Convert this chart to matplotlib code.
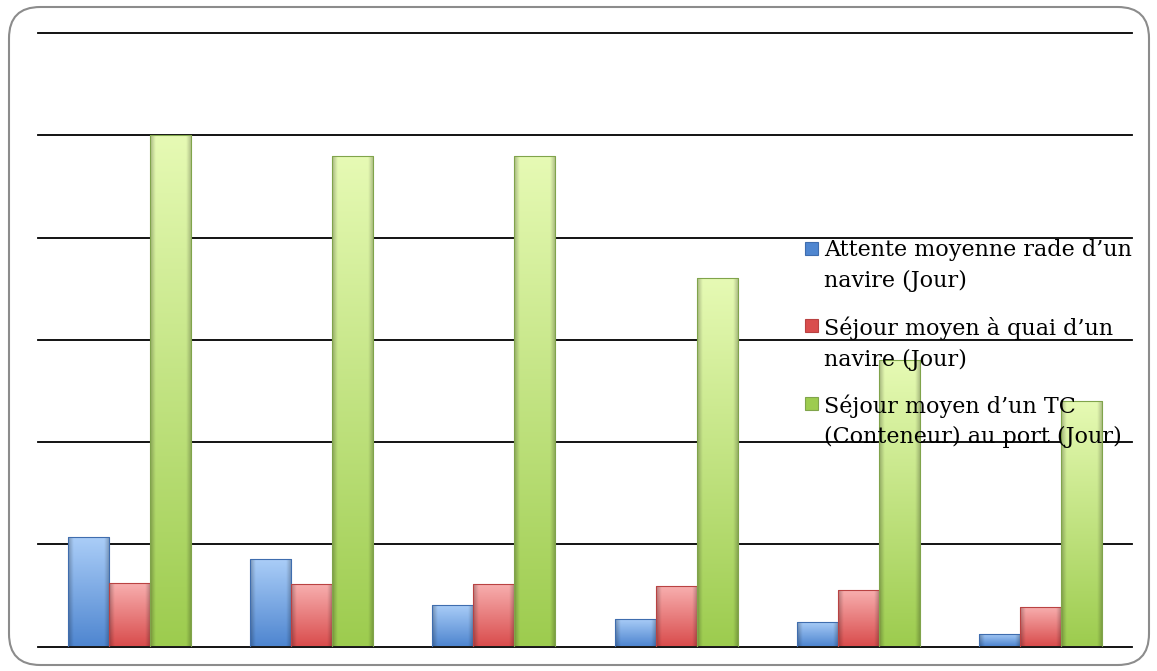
import numpy as np
import matplotlib.pyplot as plt
from matplotlib.colors import to_rgb
from matplotlib.patches import FancyBboxPatch, Rectangle

# data (values in grid units)
categories = ['1', '2', '3', '4', '5', '6']
attente_rade = [1.07, 0.86, 0.41, 0.27, 0.24, 0.12]
sejour_quai = [0.62, 0.61, 0.61, 0.59, 0.55, 0.39]
sejour_tc = [5.0, 4.8, 4.8, 3.6, 2.8, 2.4]
labels = ["Attente moyenne rade d\u2019un\nnavire (Jour)",
          "S\u00e9jour moyen \u00e0 quai d\u2019un\nnavire (Jour)",
          "S\u00e9jour moyen d\u2019un TC\n(Conteneur) au port (Jour)"]

# (top colour, bottom colour, edge colour)
styles = [('#abcef8', '#4f86d0', '#3f6dae'),
          ('#f8b0b0', '#d94d4d', '#b94242'),
          ('#e6fab4', '#9dcc4f', '#80a44b')]

W, H = 1157, 671
fig = plt.figure(figsize=(W/100, H/100), dpi=100)
ax = fig.add_axes([38/W, 1-646.5/H, (1132-38)/W, (646.5-33)/H])

x = np.arange(len(categories))
w = 0.225
series = [attente_rade, sejour_quai, sejour_tc]

# vertical gradient with darker side edges (bevel look)
ny, nx = 64, 32
yy = np.linspace(0, 1, ny)[:, None]
xx = np.linspace(-1, 1, nx)[None, :]
side = 0.25 * np.clip(np.abs(xx) - 0.75, 0, None) / 0.25

for i, vals in enumerate(series):
    top, bot, edge = styles[i]
    bars = ax.bar(x + (i - 1) * w, vals, w, color=bot, edgecolor=edge,
                  linewidth=0.8, zorder=3)
    ctop, cbot = np.array(to_rgb(top)), np.array(to_rgb(bot))
    for b in bars:
        x0, y0 = b.get_x(), b.get_y()
        bw, bh = b.get_width(), b.get_height()
        t = yy * np.ones_like(xx)  # 0 at top, 1 at bottom
        img = ctop[None, None, :] * (1 - t[..., None]) + cbot[None, None, :] * t[..., None]
        img = img * (1 - side[..., None])
        img = np.clip(img, 0, 1)
        im = ax.imshow(img, extent=(x0, x0 + bw, y0, y0 + bh), aspect='auto',
                       origin='upper', zorder=3.5, interpolation='bilinear')
        im.set_clip_path(b)
        b.set_facecolor('none')
        b.set_zorder(4)

ax.set_xlim(-0.5, len(categories) - 0.5)
ax.set_ylim(0, 6)
ax.set_yticks(range(7))
ax.yaxis.grid(True, color='black', linewidth=1.3)
for gl in ax.get_ygridlines():
    gl.set_clip_on(False)
ax.set_axisbelow(True)
ax.tick_params(left=False, bottom=False, labelleft=False, labelbottom=False)
for s in ax.spines.values():
    s.set_visible(False)

# legend drawn by hand: square marker next to first line of each label
leg_x, leg_y0, leg_step = 805, 248, 77.5
for i, lab in enumerate(labels):
    yc = leg_y0 + i * leg_step
    fig.patches.append(Rectangle(((leg_x)/W, 1-(yc+6.5)/H), 13/W, 13/H,
                                 transform=fig.transFigure,
                                 facecolor=styles[i][1], edgecolor=styles[i][2],
                                 linewidth=0.8, zorder=10))
    fig.text(824/W, 1-(yc-9)/H, lab, ha='left', va='top',
             family='DejaVu Serif', fontsize=16, linespacing=1.5,
             color='black', zorder=10)

border = FancyBboxPatch((9/W, 6/H), 1140/W, 658/H,
                        boxstyle='round,pad=0,rounding_size=0.027',
                        transform=fig.transFigure, facecolor='none',
                        edgecolor='#8c8c8c', linewidth=1.5,
                        mutation_aspect=W/H)
fig.patches.append(border)

fig.savefig('out.png', dpi=100)
